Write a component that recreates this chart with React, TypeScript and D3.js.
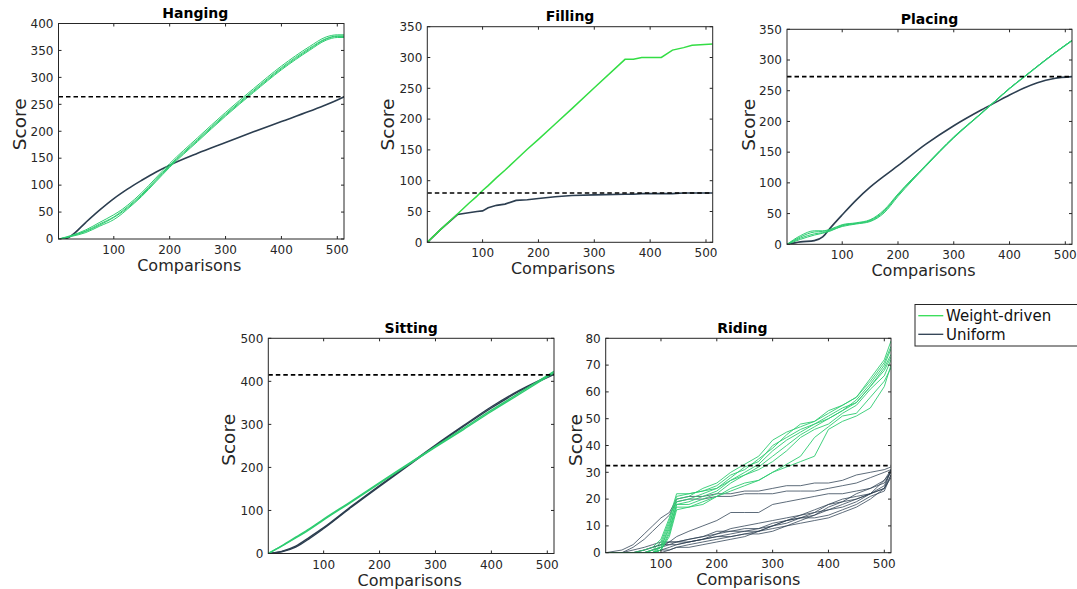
import React from "react";
import * as d3 from "d3";

// x-ticks shared by every panel
const X_TICKS = [100, 200, 300, 400, 500];

// Hanging
const HANG_X = [1, 12, 25, 50, 75, 100, 115, 125, 150, 175, 200, 250, 300, 350, 400, 450, 480, 500, 512];
const HANG_UNIFORM = [0, 0, 7, 31, 54, 75, 86, 93, 109, 124, 137, 159, 179, 199, 218, 237, 249, 258, 264];
const HANG_WEIGHT_A = [0, 2, 6, 15, 28, 41, 52, 60, 83, 110, 137, 185, 232, 276, 318, 354, 372, 377, 377];
const HANG_WEIGHT_B = [0, 2, 5, 12, 24, 36, 47, 56, 79, 106, 133, 181, 228, 272, 314, 350, 369, 374, 374];
const HANG_WEIGHT_C = [0, 3, 7, 17, 31, 45, 55, 63, 86, 113, 140, 188, 235, 279, 321, 357, 375, 379, 379];
const HANG_WEIGHT_D = [0, 2, 6, 14, 26, 40, 50, 58, 81, 108, 135, 183, 230, 274, 316, 352, 371, 376, 376];
const HANG_Y_TICKS = [0, 50, 100, 150, 200, 250, 300, 350, 400];

// Filling
const FILL_X = [1, 25, 55, 75, 90, 100, 110, 125, 140, 160, 180, 200, 230, 260, 300, 355, 370, 385, 420, 440, 460, 475, 512];
const FILL_WEIGHT = [0, 21, 46, 63, 75, 84, 92, 105, 117, 134, 151, 167, 192, 217, 251, 297, 297, 300, 300, 312, 316, 320, 322];
const FILL_UNIFORM = [0, 21, 45, 48, 50, 51, 56, 60, 62, 68, 69, 71, 74, 76, 77, 78, 78, 79, 79, 79, 80, 80, 80];
const FILL_Y_TICKS = [0, 50, 100, 150, 200, 250, 300, 350];

// Placing
const PLACE_X = [1, 25, 50, 65, 80, 100, 125, 150, 175, 200, 250, 300, 350, 375, 400, 425, 450, 480, 512];
const PLACE_UNIFORM = [0, 4, 6, 12, 28, 48, 72, 93, 111, 128, 163, 193, 219, 231, 243, 254, 263, 270, 273];
const PLACE_WEIGHT_A = [0, 12, 20, 21, 24, 31, 34, 38, 53, 80, 128, 174, 214, 234, 254, 272, 290, 311, 332];
const PLACE_WEIGHT_B = [0, 14, 22, 22, 25, 32, 35, 40, 56, 82, 129, 175, 214, 234, 254, 272, 290, 311, 332];
const PLACE_WEIGHT_C = [0, 10, 17, 19, 23, 29, 33, 37, 51, 78, 127, 173, 213, 233, 253, 271, 289, 310, 331];
const PLACE_WEIGHT_D = [0, 8, 15, 18, 22, 30, 34, 39, 54, 81, 129, 174, 214, 234, 254, 272, 290, 311, 332];
const PLACE_Y_TICKS = [0, 50, 100, 150, 200, 250, 300, 350];

// Sitting
const SIT_X = [1, 25, 50, 75, 100, 150, 200, 250, 300, 350, 400, 450, 512];
const SIT_WEIGHT_A = [0, 18, 38, 58, 80, 122, 165, 207, 249, 291, 333, 373, 423];
const SIT_WEIGHT_B = [0, 17, 36, 56, 78, 120, 163, 205, 247, 288, 330, 370, 420];
const SIT_UNIFORM_A = [0, 5, 17, 38, 60, 110, 158, 205, 252, 297, 341, 379, 418];
const SIT_UNIFORM_B = [0, 4, 15, 35, 58, 108, 156, 203, 250, 295, 338, 377, 416];
const SIT_Y_TICKS = [0, 100, 200, 300, 400, 500];

// Riding
const RIDE_X = [1, 30, 50, 70, 85, 100, 115, 128, 150, 175, 200, 225, 250, 275, 300, 325, 350, 375, 400, 425, 450, 475, 500, 512];
const RIDE_WEIGHT = [
  [0, 0, 0, 0, 1, 4, 12, 21, 22, 23, 24, 28, 32, 34, 40, 43, 46, 48, 50, 53, 57, 63, 70, 76],
  [0, 0, 0, 0, 0, 2, 10, 20, 21, 24, 26, 30, 33, 36, 42, 45, 47, 49, 52, 55, 58, 65, 72, 79],
  [0, 0, 0, 0, 0, 1, 8, 18, 19, 21, 23, 27, 30, 33, 38, 42, 45, 48, 51, 54, 56, 62, 69, 74],
  [0, 0, 0, 1, 2, 5, 13, 22, 22, 23, 25, 29, 31, 35, 39, 44, 48, 49, 53, 55, 58, 64, 71, 77],
  [0, 0, 0, 0, 0, 1, 7, 17, 17, 18, 21, 24, 26, 27, 30, 32, 34, 36, 46, 49, 51, 54, 62, 70],
  [0, 0, 0, 0, 0, 3, 11, 19, 20, 22, 24, 27, 29, 32, 36, 40, 44, 47, 50, 53, 56, 62, 68, 73],
  [0, 0, 0, 0, 1, 2, 9, 18, 18, 20, 22, 26, 29, 31, 34, 38, 43, 46, 48, 52, 55, 61, 66, 72],
  [0, 0, 0, 0, 0, 1, 6, 16, 17, 19, 21, 23, 25, 27, 30, 33, 36, 43, 47, 51, 52, 58, 64, 69],
];
const RIDE_UNIFORM = [
  [0, 1, 3, 7, 10, 13, 15, 20, 21, 21, 22, 22, 23, 23, 24, 25, 25, 26, 26, 27, 29, 30, 31, 32],
  [0, 0, 2, 5, 8, 11, 14, 19, 20, 20, 21, 21, 22, 22, 22, 23, 23, 23, 24, 25, 26, 28, 30, 31],
  [0, 0, 0, 0, 1, 2, 4, 6, 8, 10, 12, 15, 15, 15, 18, 19, 20, 21, 22, 22, 23, 24, 27, 30],
  [0, 0, 0, 1, 2, 3, 4, 4, 5, 6, 7, 8, 8, 9, 10, 11, 13, 15, 18, 20, 21, 22, 24, 31],
  [0, 0, 0, 0, 1, 2, 3, 3, 4, 5, 6, 7, 8, 8, 9, 10, 12, 14, 17, 19, 22, 24, 26, 30],
  [0, 0, 0, 0, 0, 1, 2, 3, 4, 5, 6, 6, 7, 8, 10, 12, 13, 13, 14, 16, 18, 21, 23, 29],
  [0, 0, 1, 2, 3, 4, 4, 4, 5, 6, 8, 8, 9, 9, 11, 12, 13, 14, 16, 18, 20, 22, 25, 31],
  [0, 0, 0, 0, 0, 0, 1, 2, 3, 4, 5, 6, 7, 7, 8, 10, 11, 12, 13, 15, 17, 20, 24, 28],
  [0, 0, 0, 0, 0, 1, 1, 2, 2, 3, 4, 5, 6, 8, 10, 12, 14, 16, 18, 19, 20, 22, 24, 29],
  [0, 0, 0, 1, 2, 3, 3, 4, 4, 5, 7, 9, 10, 11, 12, 13, 14, 15, 16, 17, 19, 22, 27, 31],
];
const RIDE_Y_TICKS = [0, 10, 20, 30, 40, 50, 60, 70, 80];

// dashed reference levels
const TARGETS = { Hanging: 264, Filling: 80, Placing: 273, Sitting: 415, Riding: 32.5 };

const LEGEND_LABELS = ["Weight-driven", "Uniform"];

const GREEN = "#2ecc71";
const NAVY = "#2c3e50";
const INK = "#262626";
const FONT = "DejaVu Sans, sans-serif";

const panels = [
  {
    title: "Hanging", box: [58.5, 23.5, 344, 239], yMax: 400, yTicks: HANG_Y_TICKS,
    xs: HANG_X, weight: [HANG_WEIGHT_B, HANG_WEIGHT_D, HANG_WEIGHT_A, HANG_WEIGHT_C], uniform: [HANG_UNIFORM],
    green: GREEN, gw: 1, nw: 1.6, ylx: 33, yly: -7, xlx: -12, tx: -6, smooth: true,
  },
  {
    title: "Filling", box: [427.3, 26.7, 712.7, 242.3], yMax: 350, yTicks: FILL_Y_TICKS,
    xs: FILL_X, weight: [FILL_WEIGHT], uniform: [FILL_UNIFORM],
    green: "#33dd44", gw: 1.5, nw: 1.6, ylx: 33, yly: -10, xlx: -7, tx: 0, smooth: false,
  },
  {
    title: "Placing", box: [787, 29.3, 1072, 244.3], yMax: 350, yTicks: PLACE_Y_TICKS,
    xs: PLACE_X, weight: [PLACE_WEIGHT_D, PLACE_WEIGHT_C, PLACE_WEIGHT_A, PLACE_WEIGHT_B], uniform: [PLACE_UNIFORM],
    green: GREEN, gw: 1, nw: 1.6, ylx: 32.5, yly: -12, xlx: -6, tx: 0, smooth: true,
  },
  {
    title: "Sitting", box: [268.3, 338.3, 554, 553.5], yMax: 500, yTicks: SIT_Y_TICKS,
    xs: SIT_X, weight: [SIT_WEIGHT_B, SIT_WEIGHT_A], uniform: [SIT_UNIFORM_B, SIT_UNIFORM_A],
    green: GREEN, gw: 1.4, nw: 1.4, ylx: 33.5, yly: -6, xlx: -1.5, tx: 0, smooth: true,
  },
  {
    title: "Riding", box: [605.7, 338.3, 891, 552.7], yMax: 80, yTicks: RIDE_Y_TICKS,
    xs: RIDE_X, weight: RIDE_WEIGHT, uniform: RIDE_UNIFORM,
    green: GREEN, gw: 0.9, nw: 0.9, ylx: 24, yly: -5.5, xlx: 0, tx: -6, smooth: false,
  },
];

const Panel = ({ p, idx }) => {
  const [left, top, right, bottom] = p.box;
  const x = d3.scaleLinear().domain([1, 512]).range([left, right]);
  const y = d3.scaleLinear().domain([0, p.yMax]).range([bottom, top]);
  const line = d3.line()
    .x((d, i) => x(p.xs[i]))
    .y(d => y(d))
    .curve(p.smooth ? d3.curveMonotoneX : d3.curveLinear);
  const clipId = `clip-${idx}`;
  const tick = 3;
  const cx = (left + right) / 2;
  const cy = (top + bottom) / 2;

  return (
    <g>
      <defs>
        <clipPath id={clipId}>
          <rect x={left} y={top} width={right - left} height={bottom - top} />
        </clipPath>
      </defs>
      <g clipPath={`url(#${clipId})`} fill="none">
        {p.uniform.map((s, i) => (
          <path key={`u${i}`} d={line(s)} stroke={NAVY} strokeWidth={p.nw} opacity={p.title === "Riding" ? 0.85 : 1} />
        ))}
        {p.weight.map((s, i) => (
          <path key={`w${i}`} d={line(s)} stroke={p.green} strokeWidth={p.gw} />
        ))}
        <line x1={left} x2={right} y1={y(TARGETS[p.title])} y2={y(TARGETS[p.title])}
          stroke="#000" strokeWidth={1.6} strokeDasharray="4.5,3" />
      </g>
      <rect x={left} y={top} width={right - left} height={bottom - top} fill="none" stroke={INK} strokeWidth={1} />
      {X_TICKS.map(t => (
        <g key={`xt${t}`}>
          <line x1={x(t)} x2={x(t)} y1={bottom} y2={bottom - tick} stroke={INK} />
          <line x1={x(t)} x2={x(t)} y1={top} y2={top + tick} stroke={INK} />
          <text x={x(t)} y={bottom + 15} textAnchor="middle" fontSize={12} fill={INK} fontFamily={FONT}>{t}</text>
        </g>
      ))}
      {p.yTicks.map(t => (
        <g key={`yt${t}`}>
          <line x1={left} x2={left + tick} y1={y(t)} y2={y(t)} stroke={INK} />
          <line x1={right} x2={right - tick} y1={y(t)} y2={y(t)} stroke={INK} />
          <text x={left - 5} y={y(t) + 4.3} textAnchor="end" fontSize={12} fill={INK} fontFamily={FONT}>{t}</text>
        </g>
      ))}
      <text x={cx + p.tx} y={top - 5.5} textAnchor="middle" fontSize={14} fontWeight="bold" fill="#000" fontFamily={FONT}>{p.title}</text>
      <text x={cx + p.xlx} y={bottom + 32} textAnchor="middle" fontSize={16} fill={INK} fontFamily={FONT}>Comparisons</text>
      <text transform={`translate(${left - p.ylx},${cy + p.yly}) rotate(-90)`} textAnchor="middle" fontSize={18.5} fill={INK} fontFamily={FONT}>Score</text>
    </g>
  );
};

const Legend = () => {
  const colors = ["#33dd55", NAVY];
  return (
    <g>
      <rect x={915} y={304.5} width={200} height={41.5} fill="#fff" stroke={INK} strokeWidth={1} />
      {LEGEND_LABELS.map((l, i) => (
        <g key={l}>
          <line x1={918.3} x2={943.3} y1={315.7 + i * 18.6} y2={315.7 + i * 18.6} stroke={colors[i]} strokeWidth={1.3} />
          <text x={946} y={321 + i * 18.6} fontSize={15} fill="#111" fontFamily={FONT}>{l}</text>
        </g>
      ))}
    </g>
  );
};

export default function App() {
  return (
    <svg width={1077} height={589} style={{ position: "absolute", left: 0, top: 0, background: "#fff" }}>
      <rect width={1077} height={589} fill="#fff" />
      {panels.map((p, i) => <Panel key={p.title} p={p} idx={i} />)}
      <Legend />
    </svg>
  );
}
